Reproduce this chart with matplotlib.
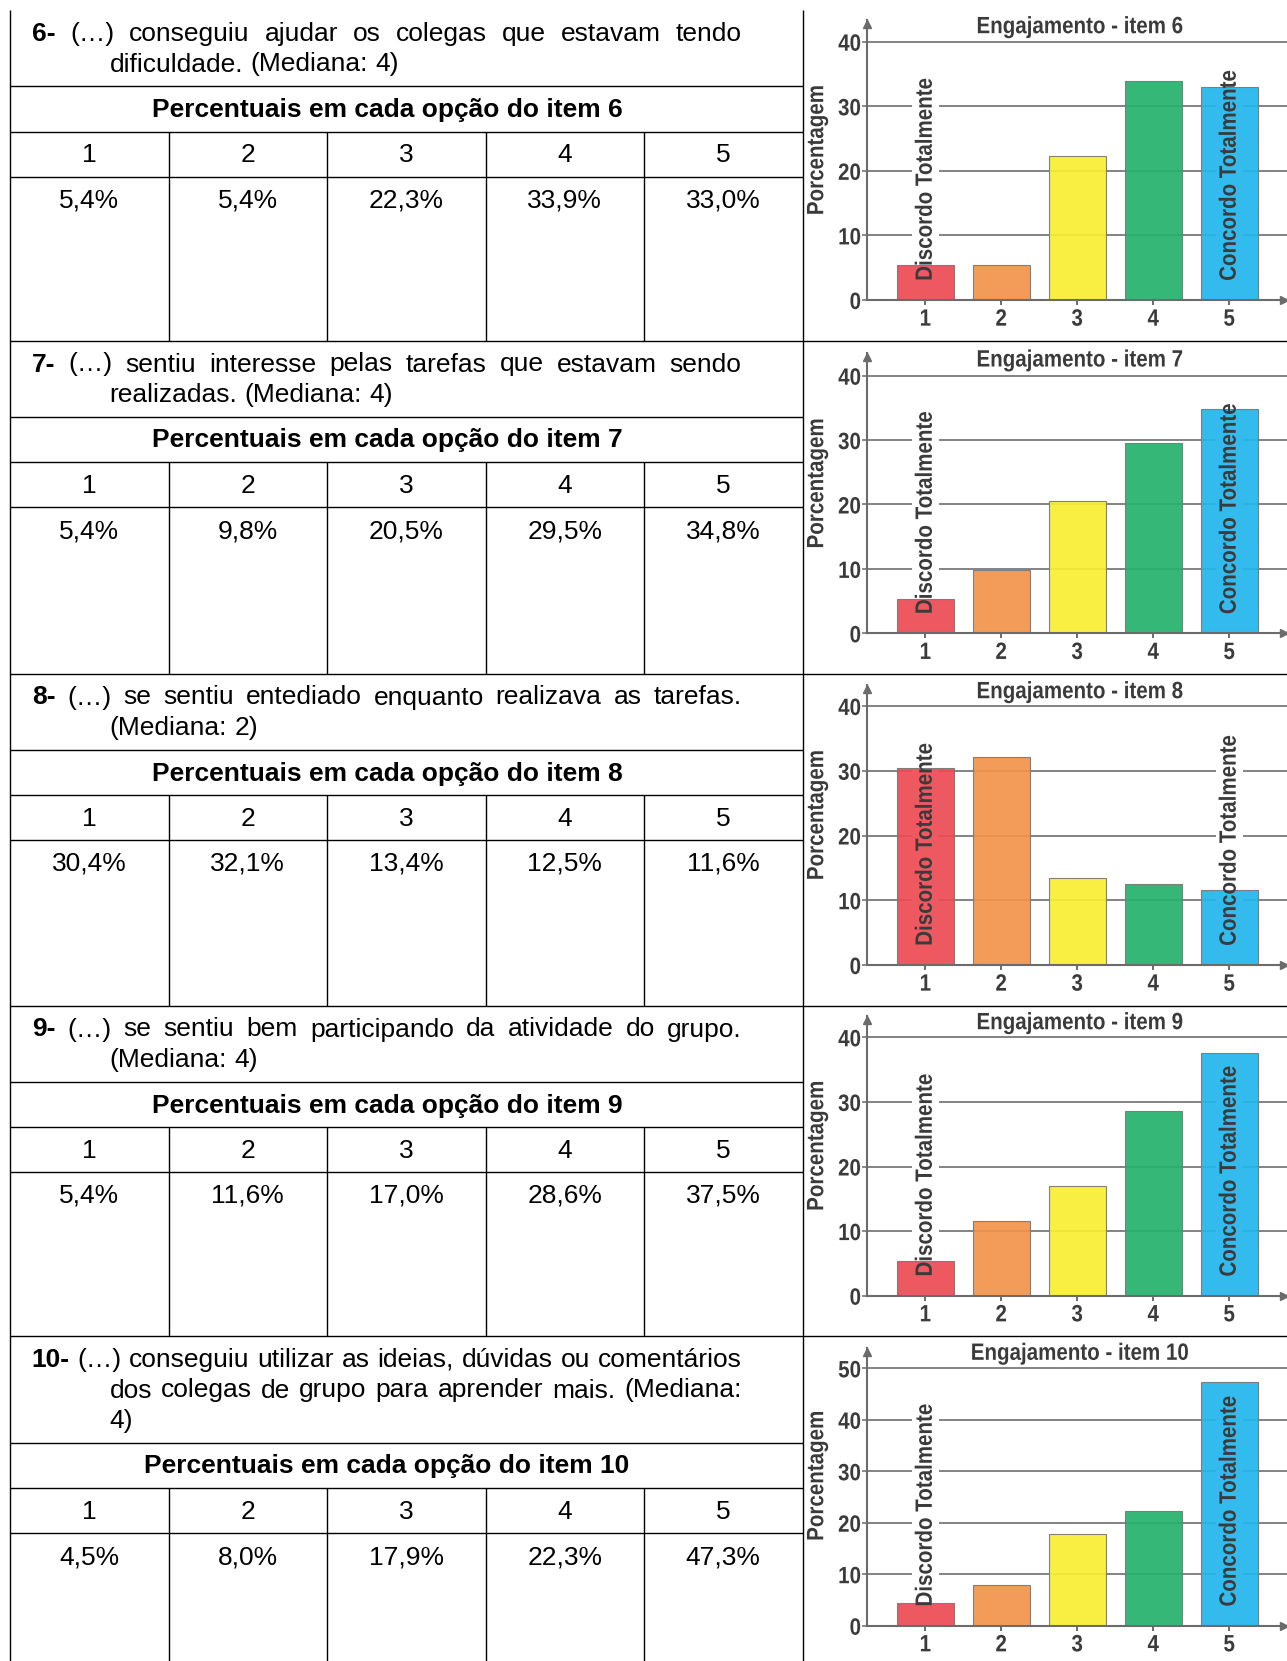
import matplotlib
matplotlib.use("Agg")
import matplotlib.pyplot as plt
from matplotlib import font_manager
from matplotlib.patches import Rectangle
from matplotlib.patheffects import AbstractPathEffect
from matplotlib.transforms import Affine2D, ScaledTranslation, offset_copy

# ---------------------------------------------------------------- data
items = [6, 7, 8, 9, 10]
options = ["1", "2", "3", "4", "5"]

pct_item6 = [5.4, 5.4, 22.3, 33.9, 33.0]
pct_item7 = [5.4, 9.8, 20.5, 29.5, 34.8]
pct_item8 = [30.4, 32.1, 13.4, 12.5, 11.6]
pct_item9 = [5.4, 11.6, 17.0, 28.6, 37.5]
pct_item10 = [4.5, 8.0, 17.9, 22.3, 47.3]
percentages = [pct_item6, pct_item7, pct_item8, pct_item9, pct_item10]

y_max = [40, 40, 40, 40, 50]

questions = [
    ["(…) conseguiu ajudar os colegas que estavam tendo",
     "dificuldade. (Mediana: 4)"],
    ["(…) sentiu interesse pelas tarefas que estavam sendo",
     "realizadas. (Mediana: 4)"],
    ["(…) se sentiu entediado enquanto realizava as tarefas.",
     "(Mediana: 2)"],
    ["(…) se sentiu bem participando da atividade do grupo.",
     "(Mediana: 4)"],
    ["(…) conseguiu utilizar as ideias, dúvidas ou comentários",
     "dos colegas de grupo para aprender mais. (Mediana:",
     "4)"],
]

scale_ends = ["Discordo Totalmente", "Concordo Totalmente"]

# ---------------------------------------------------------------- style
W, H, DPI = 1287, 1661, 100
BAR_COLORS = ["#ED4A54", "#F2944B", "#F9EE32", "#24B26B", "#22B6EC"]
INK = "#3b3b3b"
AXIS = "#6b6b6b"
GRID = "#6e6e6e"

names = {f.name for f in font_manager.fontManager.ttflist}
TABLE_FONT = "Liberation Sans" if "Liberation Sans" in names else "DejaVu Sans"
CHART_FONT = TABLE_FONT
CS = 17         # chart text size
SQUEEZE = 0.87  # horizontal condensing of the chart lettering
TS = 19         # table font size


class Squeeze(AbstractPathEffect):
    """Condense glyph outlines along the text direction."""

    def __init__(self, sx, anchor="center"):
        super().__init__()
        self.sx = sx
        self.anchor = anchor

    def draw_path(self, renderer, gc, tpath, affine, rgbFace=None):
        ext = tpath.get_extents()
        if self.anchor == "right":
            cx = ext.x1
        elif self.anchor == "left":
            cx = ext.x0
        else:
            cx = 0.5 * (ext.x0 + ext.x1)
        t = Affine2D().translate(-cx, 0).scale(self.sx, 1).translate(cx, 0)
        renderer.draw_path(gc, t.transform_path(tpath), affine, rgbFace)


fig = plt.figure(figsize=(W / DPI, H / DPI), dpi=DPI)
fig.patch.set_facecolor("white")

# pixel-space layer for the table, rules and chart titles
bg = fig.add_axes([0, 0, 1, 1])
bg.set_xlim(0, W)
bg.set_ylim(H, 0)
bg.axis("off")
renderer = fig.canvas.get_renderer()


def hline(y, x0, x1):
    bg.plot([x0, x1], [y, y], color="black", lw=1.0, solid_capstyle="butt")


def vline(x, y0, y1):
    bg.plot([x, x], [y0, y1], color="black", lw=1.0, solid_capstyle="butt")


def text_line(words, x0, x1, y, justify):
    arts = []
    for w, bold in words:
        arts.append(bg.text(0, y, w, fontsize=TS, family=TABLE_FONT,
                            fontweight="bold" if bold else "normal",
                            ha="left", va="baseline", color="black"))
    widths = [a.get_window_extent(renderer).width for a in arts]
    space = 0.278 * TS * DPI / 72
    if justify and len(arts) > 1:
        gap = (x1 - x0 - sum(widths)) / (len(arts) - 1)
    else:
        gap = space
    x = x0
    for a, w in zip(arts, widths):
        a.set_x(x)
        x += w + gap


def chart_text(target, x, y, s, anchor="center", **kw):
    return target.text(x, y, s, fontsize=CS, family=CHART_FONT,
                       fontweight="bold",
                       path_effects=[Squeeze(SQUEEZE, anchor)], **kw)


# table geometry (pixels)
X_LEFT, X_DIV = 10, 802.5
col_edges = [X_LEFT + i * (X_DIV - X_LEFT) / 5 for i in range(6)]
panel_tops = [10, 340.5, 673.5, 1005.5, 1336]
panel_bottoms = [340.5, 673.5, 1005.5, 1336, H]
TEXT_X0, TEXT_X1, INDENT_X = 31.7, 741.5, 109.5
HEADER_X = 387

# chart geometry (pixels): zero line, top gridline, arrow tip, title
AX_L = 866.7
XLIM = (0.229, 5.761)
chart_geo = [
    (300.0, 41.7, 20.0, 26.7),
    (633.3, 375.7, 353.3, 360.0),
    (965.0, 706.0, 685.0, 691.7),
    (1295.7, 1037.3, 1016.0, 1022.7),
    (1625.7, 1368.3, 1348.0, 1353.3),
]
LABEL_LIFT = 19      # gap between zero line and scale-end label (px)
BACK_W, BACK_TOP = 27, 237  # white backing width / reach above zero line

vline(X_LEFT, 10, H)
vline(X_DIV, 10, H)

for k, item in enumerate(items):
    top, bot = panel_tops[k], panel_bottoms[k]
    lines = questions[k]
    for i, line in enumerate(lines):
        words = [(w, False) for w in line.split(" ")]
        if i == 0:
            words = [(f"{item}-", True)] + words
            x0 = TEXT_X0
        else:
            x0 = INDENT_X
        text_line(words, x0, TEXT_X1, top + 31 + 30.5 * i,
                  justify=(i < len(lines) - 1))
    q_line = top + 76 + 30.5 * (len(lines) - 2)
    h_line = q_line + 45.5
    n_line = h_line + 45
    hline(q_line, X_LEFT, X_DIV)
    hline(h_line, X_LEFT, X_DIV)
    hline(n_line, X_LEFT, X_DIV)
    if k < len(items) - 1:
        hline(bot, X_LEFT, W)
    for xe in col_edges[1:-1]:
        vline(xe, h_line, bot)
    bg.text(HEADER_X, q_line + 31,
            f"Percentuais em cada opção do item {item}", fontsize=TS,
            family=TABLE_FONT, fontweight="bold", ha="center", va="baseline")
    for c in range(5):
        cx = (col_edges[c] + col_edges[c + 1]) / 2
        bg.text(cx, h_line + 31, options[c], fontsize=TS, family=TABLE_FONT,
                ha="center", va="baseline")
        val = f"{percentages[k][c]:.1f}".replace(".", ",") + "%"
        bg.text(cx, n_line + 31, val, fontsize=TS, family=TABLE_FONT,
                ha="center", va="baseline")

    # ------------------------------------------------------------ chart
    y0, ytop, ytip, ty = chart_geo[k]
    ax = fig.add_axes([AX_L / W, 1 - y0 / H, (W - AX_L) / W, (y0 - ytip) / H])
    ax.patch.set_visible(False)
    ymax = y_max[k]
    ax.set_ylim(0, ymax * (y0 - ytip) / (y0 - ytop))
    ax.set_xlim(*XLIM)
    xs = list(range(1, 6))
    ax.bar(xs, percentages[k], width=0.75, color=BAR_COLORS,
           edgecolor="#777777", linewidth=0.8, alpha=0.92, zorder=2)
    ax.set_axisbelow(True)
    ax.yaxis.grid(True, color=GRID, lw=1.2)
    ax.set_yticks(range(0, ymax + 1, 10))
    ax.set_xticks(xs)
    ax.set_xticklabels(options)
    for lab in ax.get_xticklabels():
        lab.set_path_effects([Squeeze(SQUEEZE, "center")])
    for lab in ax.get_yticklabels():
        lab.set_path_effects([Squeeze(SQUEEZE, "right")])
    for lab in ax.get_xticklabels() + ax.get_yticklabels():
        lab.set_family(CHART_FONT)
        lab.set_fontweight("bold")
        lab.set_fontsize(CS)
        lab.set_color(INK)
    ax.tick_params(axis="y", direction="out", length=3.5, width=1.1,
                   color=AXIS, pad=0.5)
    ax.tick_params(axis="x", direction="out", length=3.5, width=1.4,
                   color=AXIS, pad=2)
    for s in ("top", "right"):
        ax.spines[s].set_visible(False)
    for s in ("left", "bottom"):
        ax.spines[s].set_color(AXIS)
        ax.spines[s].set_linewidth(1.5)
    ax.plot([1], [0], marker=">", ms=6, color=AXIS, clip_on=False,
            transform=ax.transAxes + ScaledTranslation(-3.5 / DPI, 0, fig.dpi_scale_trans))
    ax.plot([0], [1], marker="^", ms=6, color=AXIS, clip_on=False,
            transform=ax.transAxes + ScaledTranslation(0, -3.5 / DPI, fig.dpi_scale_trans))

    # scale-end labels: white backing under the bars, lettering on top
    tr = offset_copy(ax.transData, fig=fig, y=LABEL_LIFT, units="dots")
    for xi, lab in zip((1, 5), scale_ends):
        px = AX_L + (xi - XLIM[0]) / (XLIM[1] - XLIM[0]) * (W - AX_L)
        ax.add_patch(Rectangle((px - BACK_W / 2, y0 - BACK_TOP), BACK_W,
                               BACK_TOP - 2, transform=bg.transData,
                               facecolor="white", edgecolor="none",
                               zorder=1, clip_on=False))
        chart_text(ax, xi, 0, lab, anchor="left", rotation=90, ha="center",
                   va="bottom", transform=tr, color=INK, zorder=3)

    chart_text(bg, 1080, ty, f"Engajamento - item {item}", color=INK,
               ha="center", va="center")
    chart_text(bg, 816.7, y0 - 150, "Porcentagem", rotation=90, color=INK,
               ha="center", va="center")

fig.savefig("out.png", dpi=DPI)
